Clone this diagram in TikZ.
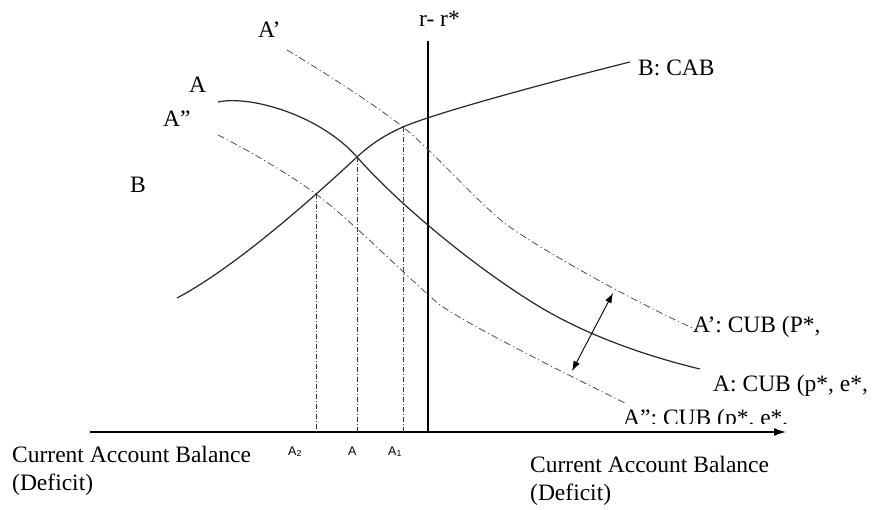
\documentclass[tikz,border=0pt]{standalone}
\usepackage{fontspec}
\setmainfont{Liberation Serif}
\newfontfamily\lsans{Liberation Sans}
\usetikzlibrary{arrows.meta}
\begin{document}
\begin{tikzpicture}[x=1pt,y=-1pt,
  lbl/.style={font=\fontsize{23.5}{27}\selectfont, inner sep=0pt, anchor=base west},
  ticklbl/.style={font=\lsans\fontsize{12.5}{14}\selectfont, inner sep=0pt, anchor=base west},
  curve/.style={line width=1.2pt, black!85},
  shiftcurve/.style={line width=0.8pt, black!70, dash pattern=on 7pt off 3pt on 1.2pt off 3pt},
  guide/.style={line width=0.8pt, black!80, dash pattern=on 5pt off 2pt on 1pt off 2pt},
  axisline/.style={line width=1.3pt},
]
\useasboundingbox (0,0) rectangle (873,510);

% axis and r - r* line
\coordinate (O) at (90,432);
\coordinate (X) at (786,432);
\draw[axisline,-{Latex[length=12pt,width=8pt]}] (O) -- (X);
\coordinate (R1) at (428,41);
\coordinate (R0) at (428,432);
\draw[line width=1.2pt] (R1) -- (R0);
\node[lbl] (rr) at (419,27) {r- r*};

% intersections
\coordinate (E) at (357,157);
\coordinate (E1) at (403,127);
\coordinate (E2) at (316,194);
\coordinate (E0) at (357,432);
\coordinate (E10) at (403,432);
\coordinate (E20) at (316,432);

% A: CUB
\draw[curve] (218,102) .. controls (250,95) and (320,115) .. (E)
  .. controls (401,207) and (480,271) .. (540,307)
  .. controls (590,337) and (650,357) .. (700,369);
% B: CAB
\draw[curve] (177,298) .. controls (230,270) and (300,210) .. (E)
  .. controls (372,143) and (387,134) .. (E1)
  .. controls (430,115) and (530,87) .. (630,62);
% A'
\draw[shiftcurve] (287,50) .. controls (330,76) and (375,105) .. (E1)
  .. controls (433,151) and (477,202) .. (507,225)
  .. controls (537,247) and (630,300) .. (697,330);
% A''
\draw[shiftcurve] (218,135) .. controls (250,151) and (290,175) .. (E2)
  .. controls (352,221) and (410,280) .. (440,305)
  .. controls (470,326) and (570,376) .. (627,404);

% guides
\draw[guide] (E2) -- (E20);
\draw[guide] (E) -- (E0);
\draw[guide] (E1) -- (E10);

% double arrow
\coordinate (U) at (613,293);
\coordinate (D) at (572,371);
\draw[line width=0.9pt, {Latex[length=10pt,width=7pt]}-{Latex[length=10pt,width=7pt]}] (D) -- (U);

% labels
\node[lbl] (lAp) at (258,38) {A’};
\node[lbl] (lA) at (189,93) {A};
\node[lbl] (lApp) at (163,127) {A”};
\node[lbl] (lB) at (130,193) {B};
\node[lbl] (lcab) at (638,76) {B: CAB};
\node[lbl] (lcubp) at (693,333) {A’: CUB (P*,};
\node[lbl] (lcub) at (713,392) {A: CUB (p*, e*,};
\begin{scope}
  \clip (600,390) rectangle (800,424);
  \node[lbl] (lcubpp) at (623,425) {A”: CUB (p*, e*,};
\end{scope}

\node[ticklbl] (t2) at (288,455) {A\textsubscript{2}};
\node[ticklbl] (t0) at (348,455) {A};
\node[ticklbl] (t1) at (388,455) {A\textsubscript{1}};

\node[lbl] (cab1) at (12,463) {Current Account Balance};
\node[lbl] (def1) at (12,490) {(Deficit)};
\node[lbl] (cab2) at (530,472) {Current Account Balance};
\node[lbl] (def2) at (530,500) {(Deficit)};
\end{tikzpicture}
\end{document}
